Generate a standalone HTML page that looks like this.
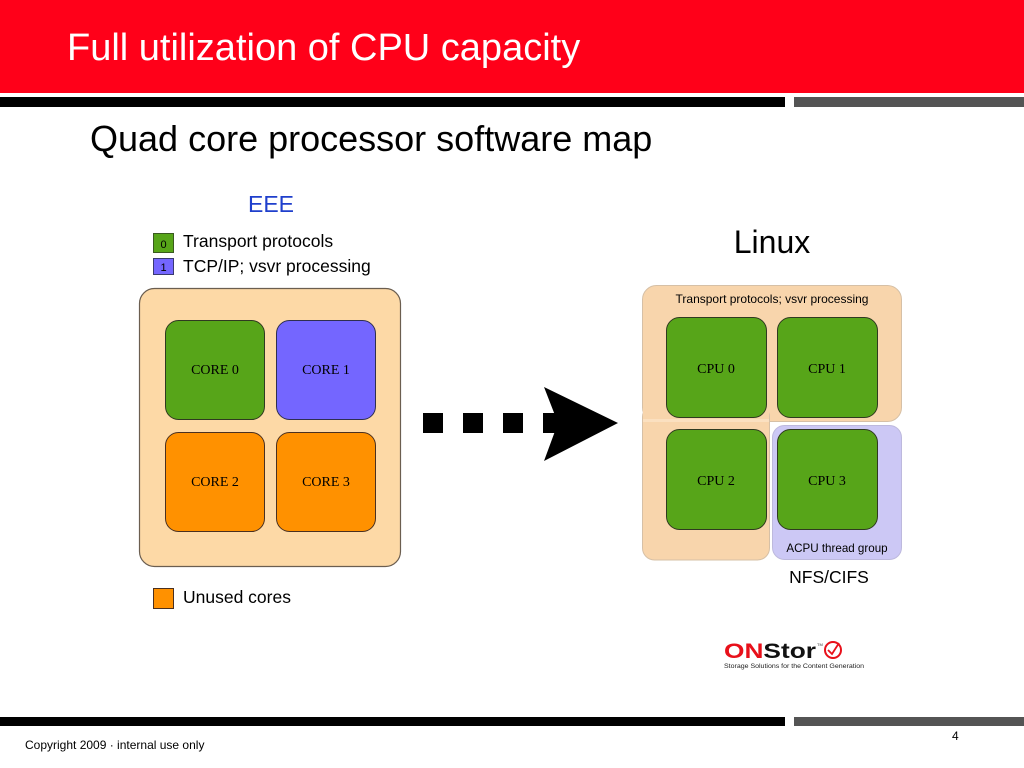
<!DOCTYPE html>
<html><head><meta charset="utf-8">
<style>
html,body{margin:0;padding:0;background:#fff;}
body{width:1024px;height:768px;overflow:hidden;position:relative;}
svg{display:block;}
</style></head>
<body>
<svg width="1024" height="768" viewBox="0 0 1024 768" xmlns="http://www.w3.org/2000/svg">
  <!-- header -->
  <rect x="0" y="0" width="1024" height="93" fill="#FF0019"/>
  <text x="67" y="60" font-family="Liberation Sans, Arial, sans-serif" font-size="38" fill="#fff">Full utilization of CPU capacity</text>
  <rect x="0" y="97" width="785" height="10" fill="#000"/>
  <rect x="794" y="97" width="230" height="10" fill="#545454"/>

  <text x="90" y="151" font-family="Liberation Sans, Arial, sans-serif" font-size="36" fill="#000">Quad core processor software map</text>

  <!-- EEE side -->
  <text x="271" y="212" text-anchor="middle" font-family="Liberation Sans, Arial, sans-serif" font-size="23" fill="#1F3FCC">EEE</text>

  <rect x="153.5" y="233.5" width="20" height="19" fill="#57A519" stroke="#3a5a20" stroke-width="1"/>
  <text x="163.5" y="248" text-anchor="middle" font-family="Liberation Sans, Arial, sans-serif" font-size="11" fill="#000">0</text>
  <text x="183" y="247" font-family="Liberation Sans, Arial, sans-serif" font-size="17.5" fill="#000">Transport protocols</text>

  <rect x="153.5" y="258.5" width="20" height="16" fill="#7466FF" stroke="#3a3a70" stroke-width="1"/>
  <text x="163.5" y="271" text-anchor="middle" font-family="Liberation Sans, Arial, sans-serif" font-size="11" fill="#000">1</text>
  <text x="183" y="272" font-family="Liberation Sans, Arial, sans-serif" font-size="17.5" fill="#000">TCP/IP; vsvr processing</text>

  <rect x="139.5" y="288.5" width="261" height="278" rx="15" ry="15" fill="#FDD9A6" stroke="#6b5e50" stroke-width="1.2"/>

  <rect x="165.5" y="320.5" width="99" height="99" rx="13" ry="13" fill="#57A519" stroke="#2f3a20" stroke-width="1"/>
  <text x="215" y="374" text-anchor="middle" font-family="Liberation Serif, Times New Roman, serif" font-size="14" fill="#000">CORE 0</text>
  <rect x="276.5" y="320.5" width="99" height="99" rx="13" ry="13" fill="#7466FF" stroke="#2f2f50" stroke-width="1"/>
  <text x="326" y="374" text-anchor="middle" font-family="Liberation Serif, Times New Roman, serif" font-size="14" fill="#000">CORE 1</text>
  <rect x="165.5" y="432.5" width="99" height="99" rx="13" ry="13" fill="#FF9100" stroke="#4a3020" stroke-width="1"/>
  <text x="215" y="486" text-anchor="middle" font-family="Liberation Serif, Times New Roman, serif" font-size="14" fill="#000">CORE 2</text>
  <rect x="276.5" y="432.5" width="99" height="99" rx="13" ry="13" fill="#FF9100" stroke="#4a3020" stroke-width="1"/>
  <text x="326" y="486" text-anchor="middle" font-family="Liberation Serif, Times New Roman, serif" font-size="14" fill="#000">CORE 3</text>

  <rect x="153.5" y="588.5" width="20" height="20" fill="#FF9100" stroke="#4a3020" stroke-width="1"/>
  <text x="183" y="603" font-family="Liberation Sans, Arial, sans-serif" font-size="17.5" fill="#000">Unused cores</text>

  <!-- arrow -->
  <rect x="423" y="413" width="20" height="20" fill="#000"/>
  <rect x="463" y="413" width="20" height="20" fill="#000"/>
  <rect x="503" y="413" width="20" height="20" fill="#000"/>
  <rect x="543" y="413" width="20" height="20" fill="#000"/>
  <polygon points="544,387 618,423 544,461 558,423" fill="#000"/>

  <!-- Linux side -->
  <text x="772" y="253" text-anchor="middle" font-family="Liberation Sans, Arial, sans-serif" font-size="32" fill="#000">Linux</text>

  <rect x="642.5" y="285.5" width="259" height="136" rx="14" ry="14" fill="#F8D5AC" stroke="#d6c0a6" stroke-width="1"/>
  <rect x="642.5" y="405" width="127" height="155" rx="12" ry="12" fill="#F8D5AC" stroke="#d6c0a6" stroke-width="1"/>
  <rect x="643" y="400" width="126" height="20" fill="#F8D5AC"/>
  <rect x="643" y="419" width="126" height="3" fill="#FBE0C0"/>

  <rect x="772.5" y="425.5" width="129" height="134" rx="12" ry="12" fill="#CCC8F5" stroke="#bdb9dd" stroke-width="1"/>

  <text x="772" y="303" text-anchor="middle" font-family="Liberation Sans, Arial, sans-serif" font-size="12" fill="#000">Transport protocols; vsvr processing</text>

  <rect x="666.5" y="317.5" width="100" height="100" rx="13" ry="13" fill="#57A519" stroke="#2f3a20" stroke-width="1"/>
  <text x="716" y="373" text-anchor="middle" font-family="Liberation Serif, Times New Roman, serif" font-size="14" fill="#000">CPU 0</text>
  <rect x="777.5" y="317.5" width="100" height="100" rx="13" ry="13" fill="#57A519" stroke="#2f3a20" stroke-width="1"/>
  <text x="827" y="373" text-anchor="middle" font-family="Liberation Serif, Times New Roman, serif" font-size="14" fill="#000">CPU 1</text>
  <rect x="666.5" y="429.5" width="100" height="100" rx="13" ry="13" fill="#57A519" stroke="#2f3a20" stroke-width="1"/>
  <text x="716" y="485" text-anchor="middle" font-family="Liberation Serif, Times New Roman, serif" font-size="14" fill="#000">CPU 2</text>
  <rect x="777.5" y="429.5" width="100" height="100" rx="13" ry="13" fill="#57A519" stroke="#2f3a20" stroke-width="1"/>
  <text x="827" y="485" text-anchor="middle" font-family="Liberation Serif, Times New Roman, serif" font-size="14" fill="#000">CPU 3</text>

  <text x="837" y="552" text-anchor="middle" font-family="Liberation Sans, Arial, sans-serif" font-size="11.6" fill="#000">ACPU thread group</text>
  <text x="829" y="583" text-anchor="middle" font-family="Liberation Sans, Arial, sans-serif" font-size="17.5" fill="#000">NFS/CIFS</text>

  <!-- logo -->
  <text x="724" y="658" font-family="Liberation Sans, Arial, sans-serif" font-size="21" font-weight="bold" fill="#E8101A" textLength="92" lengthAdjust="spacingAndGlyphs">ON<tspan fill="#111">Stor</tspan></text>
  <text x="817" y="646" font-family="Liberation Sans, Arial, sans-serif" font-size="4" fill="#333">TM</text>
  <circle cx="833" cy="650" r="8" fill="none" stroke="#E8101A" stroke-width="2"/>
  <polyline points="828,650 832,654 839,643" fill="none" stroke="#E8101A" stroke-width="1.8"/>
  <text x="724" y="668" font-family="Liberation Sans, Arial, sans-serif" font-size="6.4" fill="#222" textLength="140" lengthAdjust="spacingAndGlyphs">Storage Solutions for the Content Generation</text>

  <!-- footer -->
  <rect x="0" y="717" width="785" height="9" fill="#000"/>
  <rect x="794" y="717" width="230" height="9" fill="#545454"/>
  <text x="25" y="749" font-family="Liberation Sans, Arial, sans-serif" font-size="12" fill="#000">Copyright 2009 · internal use only</text>
  <text x="952" y="740" font-family="Liberation Sans, Arial, sans-serif" font-size="12" fill="#000">4</text>
</svg>
</body></html>
